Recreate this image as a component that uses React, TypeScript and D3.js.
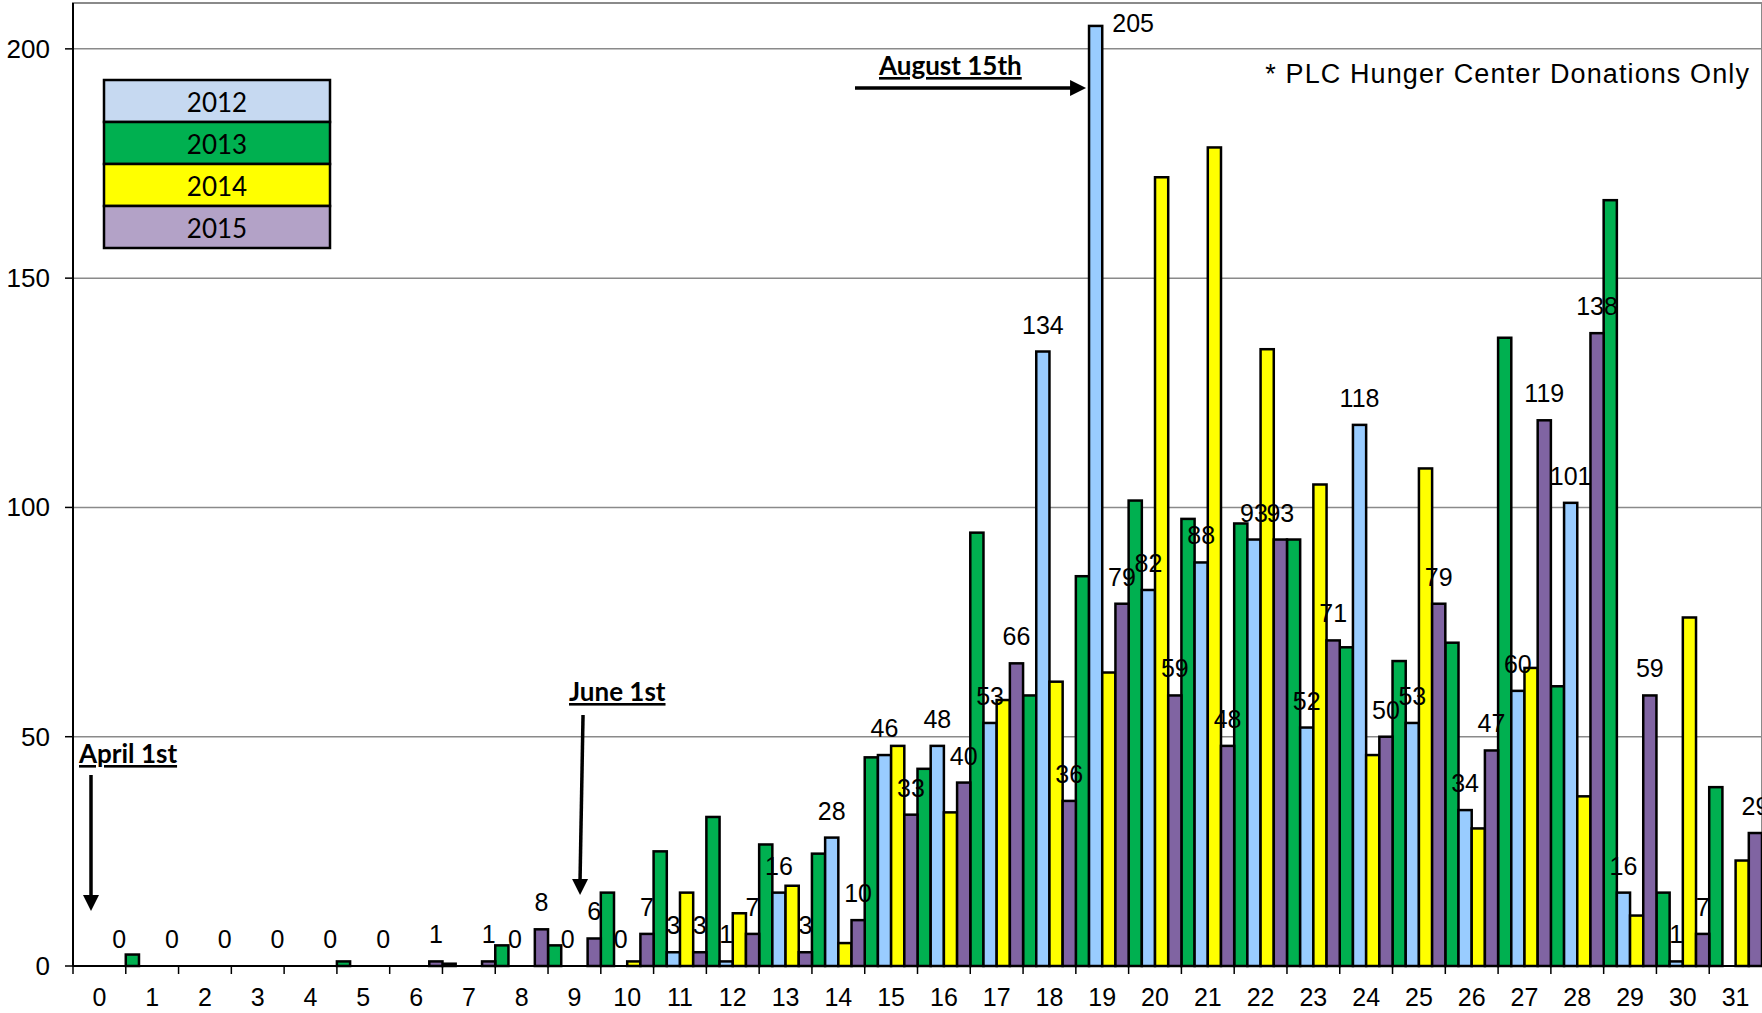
import React, { useEffect, useRef } from 'react';
import * as d3 from 'd3';

// week number since April 1st
const weeks = ['0', '1', '2', '3', '4', '5', '6', '7', '8', '9', '10', '11', '12', '13', '14', '15',
	'16', '17', '18', '19', '20', '21', '22', '23', '24', '25', '26', '27', '28', '29', '30', '31'];

const v2012 = [null, null, null, null, null, null, null, null, 0, 0, 0, 3, 1, 16, 28, 46,
	48, 53, 134, 205, 82, 88, 93, 52, 118, 53, 34, 60, 101, 16, 1, null];
const v2013 = [null, 2.5, null, null, null, 1, null, 0.5, 4.5, 4.5, 16, 25, 32.5, 26.5, 24.5, 45.5,
	43, 94.5, 59, 85, 101.5, 97.5, 96.5, 93, 69.5, 66.5, 70.5, 137, 61, 167, 16, 39];
const v2014 = [null, null, null, null, null, null, null, null, null, null, 1, 16, 11.5, 17.5, 5, 48,
	33.5, 58, 62, 64, 172, 178.5, 134.5, 105, 46, 108.5, 30, 65, 37, 11, 76, 23];
const v2015 = [0, 0, 0, 0, 0, 0, 1, 1, 8, 6, 7, 3, 7, 3, 10, 33,
	40, 66, 36, 79, 59, 48, 93, 71, 50, 79, 47, 119, 138, 59, 7, 29];

const yTicks = [0, 50, 100, 150, 200];
const legendYears = ['2012', '2013', '2014', '2015'];

interface Series {
	key: string
	values: (number | null)[]
	fill: string
	legendFill: string
	labeled: boolean
}

// order of the bars inside a week
const series: Series[] = [
	{ key: '2013', values: v2013, fill: '#00B050', legendFill: '#00B050', labeled: false },
	{ key: '2012', values: v2012, fill: '#99CCFF', legendFill: '#C6D9F1', labeled: true },
	{ key: '2014', values: v2014, fill: '#FFFF00', legendFill: '#FFFF00', labeled: false },
	{ key: '2015', values: v2015, fill: '#8064A2', legendFill: '#B3A2C7', labeled: true },
];

const App: React.FC = () => {
	const svgRef = useRef<SVGSVGElement | null>(null);

	useEffect(() => {
		if (svgRef.current == null) return;
		const width = 1762;
		const height = 1013;
		const left = 73, right = 1762, top = 3, bottom = 966;
		const arial = '"Liberation Sans", Arial, sans-serif';
		const calibri = 'Lato, "Open Sans", sans-serif';

		const x = d3.scaleBand<string>().domain(weeks).range([left, right]).padding(0);
		const xSub = d3.scaleBand<string>().domain(series.map(s => s.key)).range([0, x.bandwidth()]).padding(0);
		const y = d3.scaleLinear().domain([0, 210]).range([bottom, top]);

		const svg = d3.select(svgRef.current);
		svg.selectAll('*').remove();
		svg.attr('width', width).attr('height', height);

		svg.append('rect').attr('width', width).attr('height', height).attr('fill', '#fff');

		// plot border
		svg.append('rect')
			.attr('x', left).attr('y', top)
			.attr('width', right - left).attr('height', bottom - top)
			.attr('fill', 'none').attr('stroke', '#8a8a8a').attr('stroke-width', 2);

		// gridlines
		svg.append('g').selectAll('line')
			.data(yTicks.filter(t => t > 0))
			.join('line')
			.attr('x1', left).attr('x2', right)
			.attr('y1', d => y(d)).attr('y2', d => y(d))
			.attr('stroke', '#8a8a8a').attr('stroke-width', 1.5);

		// bars
		series.forEach(s => {
			svg.append('g').selectAll('rect')
				.data(s.values.map((v, i) => ({ v, w: weeks[i] })).filter(d => d.v != null))
				.join('rect')
				.attr('x', d => (x(d.w) as number) + (xSub(s.key) as number))
				.attr('width', xSub.bandwidth())
				.attr('y', d => y(d.v as number))
				.attr('height', d => bottom - y(d.v as number))
				.attr('fill', s.fill)
				.attr('stroke', '#000')
				.attr('stroke-width', 2.5);
		});

		// data labels for 2012 and 2015
		series.filter(s => s.labeled).forEach(s => {
			svg.append('g').selectAll('text')
				.data(s.values.map((v, i) => ({ v, w: weeks[i] })).filter(d => d.v != null))
				.join('text')
				.each(function (d) {
					const bx = (x(d.w) as number) + (xSub(s.key) as number);
					const ty = y(d.v as number);
					const t = d3.select(this);
					if (ty - 27 < 15) {
						t.attr('x', bx + xSub.bandwidth() + 10).attr('y', ty + 6).attr('text-anchor', 'start');
					} else {
						t.attr('x', bx + xSub.bandwidth() / 2).attr('y', ty - 18).attr('text-anchor', 'middle');
					}
				})
				.attr('font-family', arial)
				.attr('font-size', 25)
				.attr('fill', '#000')
				.text(d => String(Math.round(d.v as number)));
		});

		// axes
		const xAxis = svg.append('g');
		xAxis.append('line')
			.attr('x1', left).attr('x2', right).attr('y1', bottom).attr('y2', bottom)
			.attr('stroke', '#000').attr('stroke-width', 2);
		xAxis.selectAll('line.tick')
			.data(weeks)
			.join('line')
			.attr('class', 'tick')
			.attr('x1', d => x(d) as number).attr('x2', d => x(d) as number)
			.attr('y1', bottom).attr('y2', bottom + 8)
			.attr('stroke', '#000').attr('stroke-width', 1.5);
		xAxis.selectAll('text')
			.data(weeks)
			.join('text')
			.attr('x', d => (x(d) as number) + x.bandwidth() / 2)
			.attr('y', 1006)
			.attr('text-anchor', 'middle')
			.attr('font-family', arial)
			.attr('font-size', 25)
			.text(d => d);

		const yAxis = svg.append('g');
		yAxis.append('line')
			.attr('x1', left).attr('x2', left).attr('y1', top).attr('y2', bottom)
			.attr('stroke', '#000').attr('stroke-width', 2);
		yAxis.selectAll('line.tick')
			.data(yTicks)
			.join('line')
			.attr('class', 'tick')
			.attr('x1', left - 8).attr('x2', left)
			.attr('y1', d => y(d)).attr('y2', d => y(d))
			.attr('stroke', '#000').attr('stroke-width', 1.5);
		yAxis.selectAll('text')
			.data(yTicks)
			.join('text')
			.attr('x', 50)
			.attr('y', d => y(d) + 9)
			.attr('text-anchor', 'end')
			.attr('font-family', arial)
			.attr('font-size', 26)
			.text(d => String(d));

		// legend
		const lg = svg.append('g').attr('transform', 'translate(104,80)');
		const rowH = 42, lgW = 226;
		legendYears.forEach((yr, i) => {
			const s = series.find(d => d.key === yr) as Series;
			lg.append('rect')
				.attr('x', 0).attr('y', i * rowH)
				.attr('width', lgW).attr('height', rowH)
				.attr('fill', s.legendFill)
				.attr('stroke', '#000').attr('stroke-width', 2.5);
			lg.append('text')
				.attr('x', lgW / 2).attr('y', i * rowH + rowH / 2 + 11)
				.attr('text-anchor', 'middle')
				.attr('font-family', calibri)
				.attr('font-size', 26)
				.text(yr);
		});

		// annotations
		const arrowHead = (tx: number, ty: number, dir: 'down' | 'right') => {
			const p = dir === 'down'
				? `M${tx},${ty} L${tx - 8},${ty - 16} L${tx + 8},${ty - 16} Z`
				: `M${tx},${ty} L${tx - 16},${ty - 8} L${tx - 16},${ty + 8} Z`;
			svg.append('path').attr('d', p).attr('fill', '#000');
		};
		const label = (tx: number, ty: number, txt: string) => {
			svg.append('text')
				.attr('x', tx).attr('y', ty)
				.attr('font-family', calibri)
				.attr('font-weight', 700)
				.attr('font-size', 26)
				.style('text-decoration', 'underline')
				.text(txt);
		};

		const aprX = (x('0') as number) + 18;
		label(79, 763, 'April 1st');
		svg.append('line').attr('x1', aprX).attr('x2', aprX).attr('y1', 775).attr('y2', 897)
			.attr('stroke', '#000').attr('stroke-width', 3.5);
		arrowHead(aprX, 911, 'down');

		const junX = (x('9') as number) + 32;
		label(569, 701, 'June 1st');
		svg.append('line').attr('x1', junX + 3).attr('x2', junX).attr('y1', 715).attr('y2', 881)
			.attr('stroke', '#000').attr('stroke-width', 3.5);
		arrowHead(junX, 895, 'down');

		const augX = (x('19') as number) + (xSub('2012') as number) - 3;
		label(879, 75, 'August 15th');
		svg.append('line').attr('x1', 855).attr('x2', augX - 14).attr('y1', 88).attr('y2', 88)
			.attr('stroke', '#000').attr('stroke-width', 3.5);
		arrowHead(augX, 88, 'right');

		svg.append('text')
			.attr('x', 1750).attr('y', 83)
			.attr('text-anchor', 'end')
			.attr('font-family', arial)
			.attr('font-size', 27)
			.attr('letter-spacing', 1.1)
			.text('* PLC Hunger Center Donations Only');
	}, []);

	return (
		<svg ref={svgRef} style={{ position: 'absolute', left: 0, top: 0, display: 'block' }}></svg>
	);
}

export default App;
